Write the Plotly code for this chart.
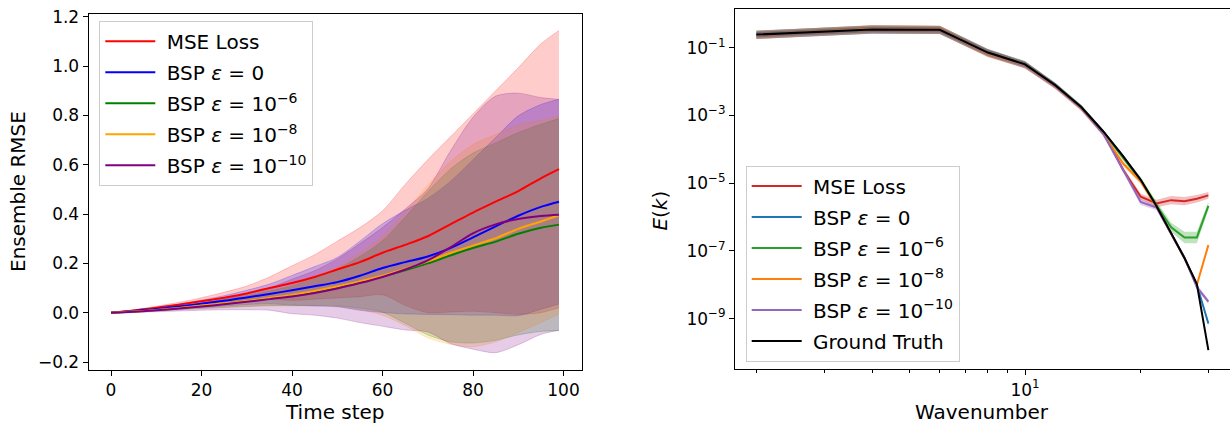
import plotly.graph_objects as go

W, H = 1230, 425

# ---------------- Left panel: ensemble RMSE vs time step ----------------
time_steps = [0, 5, 10, 15, 20, 25, 30, 35, 40, 45, 50, 55, 60, 65, 70, 75, 80, 85, 90, 95, 99]

mse_mean = [0, 0.009, 0.02, 0.032, 0.046, 0.061, 0.078, 0.10, 0.12, 0.145, 0.175, 0.205, 0.243, 0.275, 0.31, 0.358, 0.406, 0.45, 0.493, 0.545, 0.582]
mse_std = [0, 0.003, 0.006, 0.01, 0.015, 0.022, 0.03, 0.045, 0.07, 0.09, 0.115, 0.14, 0.17, 0.245, 0.31, 0.355, 0.40, 0.45, 0.50, 0.545, 0.562]

bsp0_mean = [0, 0.007, 0.015, 0.025, 0.036, 0.048, 0.062, 0.076, 0.091, 0.107, 0.124, 0.15, 0.181, 0.205, 0.228, 0.262, 0.305, 0.35, 0.393, 0.429, 0.45]
bsp0_std = [0, 0.003, 0.006, 0.01, 0.015, 0.021, 0.029, 0.04, 0.06, 0.08, 0.1, 0.14, 0.18, 0.21, 0.235, 0.27, 0.315, 0.36, 0.405, 0.415, 0.415]

bsp6_mean = [0, 0.005, 0.011, 0.019, 0.028, 0.037, 0.047, 0.058, 0.068, 0.084, 0.102, 0.123, 0.147, 0.172, 0.20, 0.232, 0.262, 0.288, 0.32, 0.344, 0.357]
bsp6_std = [0, 0.002, 0.004, 0.007, 0.011, 0.016, 0.022, 0.03, 0.04, 0.055, 0.075, 0.105, 0.145, 0.215, 0.29, 0.35, 0.385, 0.40, 0.41, 0.42, 0.43]

bsp8_mean = [0, 0.005, 0.011, 0.019, 0.029, 0.038, 0.048, 0.06, 0.072, 0.088, 0.106, 0.127, 0.15, 0.178, 0.208, 0.242, 0.272, 0.302, 0.34, 0.37, 0.395]
bsp8_std = [0, 0.002, 0.004, 0.007, 0.011, 0.016, 0.022, 0.03, 0.042, 0.058, 0.08, 0.115, 0.16, 0.23, 0.31, 0.37, 0.41, 0.42, 0.42, 0.41, 0.40]

bsp10_mean = [0, 0.004, 0.01, 0.017, 0.025, 0.034, 0.044, 0.055, 0.066, 0.08, 0.098, 0.12, 0.145, 0.175, 0.212, 0.265, 0.322, 0.358, 0.38, 0.392, 0.397]
bsp10_std = [0, 0.003, 0.006, 0.01, 0.015, 0.022, 0.032, 0.045, 0.07, 0.09, 0.12, 0.16, 0.2, 0.245, 0.29, 0.39, 0.47, 0.52, 0.51, 0.48, 0.468]

left_names = ["MSE Loss", "BSP <i>ε</i> = 0", "BSP <i>ε</i> = 10<sup>−6</sup>",
              "BSP <i>ε</i> = 10<sup>−8</sup>", "BSP <i>ε</i> = 10<sup>−10</sup>"]
left_colors = [(255, 0, 0), (0, 0, 255), (0, 128, 0), (255, 165, 0), (128, 0, 128)]
left_means = [mse_mean, bsp0_mean, bsp6_mean, bsp8_mean, bsp10_mean]
left_stds = [mse_std, bsp0_std, bsp6_std, bsp8_std, bsp10_std]

x_ticks_left = [0, 20, 40, 60, 80, 100]
y_ticks_left = [-0.2, 0.0, 0.2, 0.4, 0.6, 0.8, 1.0, 1.2]

# ---------------- Right panel: energy spectrum ----------------
wavenumbers = [2, 4, 6, 8, 10, 12, 14, 16, 18, 20, 22, 24, 26, 28, 30]

gt_E = [0.245, 0.347, 0.339, 0.0724, 0.0324, 7.76e-3, 1.78e-3, 3.31e-4, 6.31e-5, 1.26e-5, 2.09e-6, 3.24e-7, 6.17e-8, 1.05e-8, 1.17e-10]
mse_E = [0.24, 0.35, 0.335, 0.071, 0.032, 7.6e-3, 1.75e-3, 3.2e-4, 2.5e-5, 3.98e-6, 2.51e-6, 3.16e-6, 2.95e-6, 3.47e-6, 4.37e-6]
bsp0_E = [0.245, 0.345, 0.338, 0.072, 0.0322, 7.7e-3, 1.76e-3, 3.25e-4, 6.0e-5, 1.22e-5, 2.05e-6, 3.2e-7, 6.1e-8, 1.0e-8, 7.2e-10]
bsp6_E = [0.243, 0.348, 0.336, 0.071, 0.032, 7.6e-3, 1.78e-3, 3.3e-4, 5.6e-5, 1.26e-5, 2.24e-6, 5.0e-7, 2.5e-7, 2.5e-7, 2.14e-6]
bsp8_E = [0.238, 0.36, 0.345, 0.068, 0.031, 7.2e-3, 1.6e-3, 2.8e-4, 3.8e-5, 1.12e-5, 2.0e-6, 3.16e-7, 6.0e-8, 1.0e-8, 1.48e-7]
bsp10_E = [0.24, 0.345, 0.335, 0.07, 0.031, 7.3e-3, 1.65e-3, 2.8e-4, 2.5e-5, 2.8e-6, 1.9e-6, 3.2e-7, 6.3e-8, 8.5e-9, 3.16e-9]

# ensemble spread (decades)
gt_spread = [0.08, 0.08, 0.08, 0.08, 0.07, 0.06, 0.05, 0.05, 0.04, 0.04, 0.04, 0.04, 0.04, 0.04, 0.04]
mse_spread = [0.12, 0.12, 0.12, 0.11, 0.1, 0.08, 0.07, 0.06, 0.07, 0.09, 0.11, 0.12, 0.12, 0.11, 0.1]
bsp0_spread = [0.12, 0.12, 0.12, 0.11, 0.1, 0.08, 0.07, 0.06, 0.06, 0.06, 0.06, 0.06, 0.06, 0.06, 0.06]
bsp6_spread = [0.12, 0.12, 0.12, 0.11, 0.1, 0.08, 0.07, 0.06, 0.07, 0.08, 0.1, 0.13, 0.17, 0.17, 0.12]
bsp8_spread = [0.12, 0.12, 0.12, 0.11, 0.1, 0.08, 0.07, 0.06, 0.07, 0.07, 0.06, 0.06, 0.06, 0.06, 0.06]
bsp10_spread = [0.12, 0.12, 0.12, 0.11, 0.1, 0.08, 0.07, 0.06, 0.08, 0.09, 0.08, 0.07, 0.07, 0.07, 0.07]

right_names = ["MSE Loss", "BSP <i>ε</i> = 0", "BSP <i>ε</i> = 10<sup>−6</sup>",
               "BSP <i>ε</i> = 10<sup>−8</sup>", "BSP <i>ε</i> = 10<sup>−10</sup>", "Ground Truth"]
right_colors = [(214, 39, 40), (31, 119, 180), (44, 160, 44), (255, 127, 14), (148, 103, 189), (0, 0, 0)]
right_E = [mse_E, bsp0_E, bsp6_E, bsp8_E, bsp10_E, gt_E]
right_spread = [mse_spread, bsp0_spread, bsp6_spread, bsp8_spread, bsp10_spread, gt_spread]

y_ticks_right = [1e-1, 1e-3, 1e-5, 1e-7, 1e-9]
y_ticktext_right = ["10<sup>−1</sup>", "10<sup>−3</sup>", "10<sup>−5</sup>", "10<sup>−7</sup>", "10<sup>−9</sup>"]
x_major_right = [10]
x_majortext_right = ["10<sup>1</sup>"]
x_minor_right = [2, 3, 4, 5, 6, 7, 8, 9, 20, 30]


def rgba(c, a):
    return f"rgba({c[0]},{c[1]},{c[2]},{a})"


FONT = "DejaVu Sans"
fig = go.Figure()

# left bands
for mean, std, col in zip(left_means, left_stds, left_colors):
    up = [m + s for m, s in zip(mean, std)]
    lo = [m - s for m, s in zip(mean, std)]
    fig.add_trace(go.Scatter(x=time_steps, y=up, mode="lines",
                             line=dict(color=rgba(col, 0.2), width=1, shape="spline", smoothing=0.8),
                             showlegend=False, hoverinfo="skip", xaxis="x", yaxis="y"))
    fig.add_trace(go.Scatter(x=time_steps, y=lo, mode="lines", fill="tonexty",
                             fillcolor=rgba(col, 0.2),
                             line=dict(color=rgba(col, 0.2), width=1, shape="spline", smoothing=0.8),
                             showlegend=False, hoverinfo="skip", xaxis="x", yaxis="y"))
# left lines
for i, (name, mean, col) in enumerate(zip(left_names, left_means, left_colors)):
    fig.add_trace(go.Scatter(x=time_steps, y=mean, mode="lines", name="\u00a0" + name,
                             line=dict(color=rgba(col, 1), width=2, shape="spline", smoothing=0.9),
                             legend="legend", legendgroup=f"L{i}", xaxis="x", yaxis="y"))

# right bands
for E, sp, col in zip(right_E, right_spread, right_colors):
    up = [e * 10 ** s for e, s in zip(E, sp)]
    lo = [e / 10 ** s for e, s in zip(E, sp)]
    a = 0.2 if col == (0, 0, 0) else 0.3
    fig.add_trace(go.Scatter(x=wavenumbers, y=up, mode="lines", line=dict(width=0, color=rgba(col, a)),
                             showlegend=False, hoverinfo="skip", xaxis="x2", yaxis="y2"))
    fig.add_trace(go.Scatter(x=wavenumbers, y=lo, mode="lines", fill="tonexty", fillcolor=rgba(col, a),
                             line=dict(width=0, color=rgba(col, a)),
                             showlegend=False, hoverinfo="skip", xaxis="x2", yaxis="y2"))
# right lines
for i, (name, E, col) in enumerate(zip(right_names, right_E, right_colors)):
    fig.add_trace(go.Scatter(x=wavenumbers, y=E, mode="lines", name="\u00a0" + name,
                             line=dict(color=rgba(col, 1), width=2),
                             legend="legend2", legendgroup=f"R{i}", xaxis="x2", yaxis="y2"))

axis_common = dict(showgrid=False, zeroline=False, showline=True, linecolor="black", linewidth=1,
                   ticks="outside", ticklen=5, tickwidth=1, tickcolor="black",
                   ticklabeloverflow="allow",
                   tickfont=dict(family=FONT, size=17, color="black"))

legend_common = dict(font=dict(family=FONT, size=20, color="black"), bgcolor="rgba(255,255,255,0.8)",
                     bordercolor="#cccccc", borderwidth=1, xanchor="left", yanchor="top",
                     tracegroupgap=2, itemwidth=50, itemclick=False, itemdoubleclick=False)

fig.update_layout(
    width=W, height=H,
    margin=dict(l=0, r=0, t=0, b=0),
    paper_bgcolor="white", plot_bgcolor="white",
    font=dict(family=FONT, color="black"),
    xaxis=dict(domain=[88.6 / W, 581.7 / W], range=[-4.95, 104.02], anchor="y",
               tickmode="array", tickvals=x_ticks_left, mirror=True, **axis_common),
    yaxis=dict(domain=[(H - 370.7) / H, (H - 7) / H], range=[-0.2317, 1.2115], anchor="x",
               tickmode="array", tickvals=y_ticks_left, tickformat=".1f", mirror=True, **axis_common),
    xaxis2=dict(domain=[735 / W, 1.0], type="log", range=[0.2454, 1.5334], anchor="y2",
                tickmode="array", tickvals=x_major_right, ticktext=x_majortext_right, mirror=True,
                minor=dict(tickmode="array", tickvals=x_minor_right, ticks="outside", ticklen=3,
                           tickwidth=1, tickcolor="black"),
                **axis_common),
    yaxis2=dict(domain=[(H - 370) / H, (H - 1.7) / H], type="log", range=[-10.494, 0.156], anchor="x2",
                tickmode="array", tickvals=y_ticks_right, ticktext=y_ticktext_right, mirror=False,
                **axis_common),
    legend=dict(x=99.3 / W, y=1 - 14 / H, **legend_common),
    legend2=dict(x=745.7 / W, y=1 - 162 / H, **legend_common),
    annotations=[
        dict(text="Ensemble RMSE", x=18 / W, y=1 - 189 / H, xref="paper", yref="paper", textangle=-90,
             showarrow=False, font=dict(family=FONT, size=20, color="black"), xanchor="center", yanchor="middle"),
        dict(text="Time step", x=335 / W, y=1 - 413.5 / H, xref="paper", yref="paper",
             showarrow=False, font=dict(family=FONT, size=20, color="black"), xanchor="center", yanchor="middle"),
        dict(text="<i>E</i>(<i>k</i>)", x=660 / W, y=1 - 208 / H, xref="paper", yref="paper", textangle=-90,
             showarrow=False, font=dict(family=FONT, size=20, color="black"), xanchor="center", yanchor="middle"),
        dict(text="Wavenumber", x=982 / W, y=1 - 413.5 / H, xref="paper", yref="paper",
             showarrow=False, font=dict(family=FONT, size=20, color="black"), xanchor="center", yanchor="middle"),
    ],
)

fig.write_html("out.html", config={"displayModeBar": False},
               post_script="document.body.style.margin='0px';")
